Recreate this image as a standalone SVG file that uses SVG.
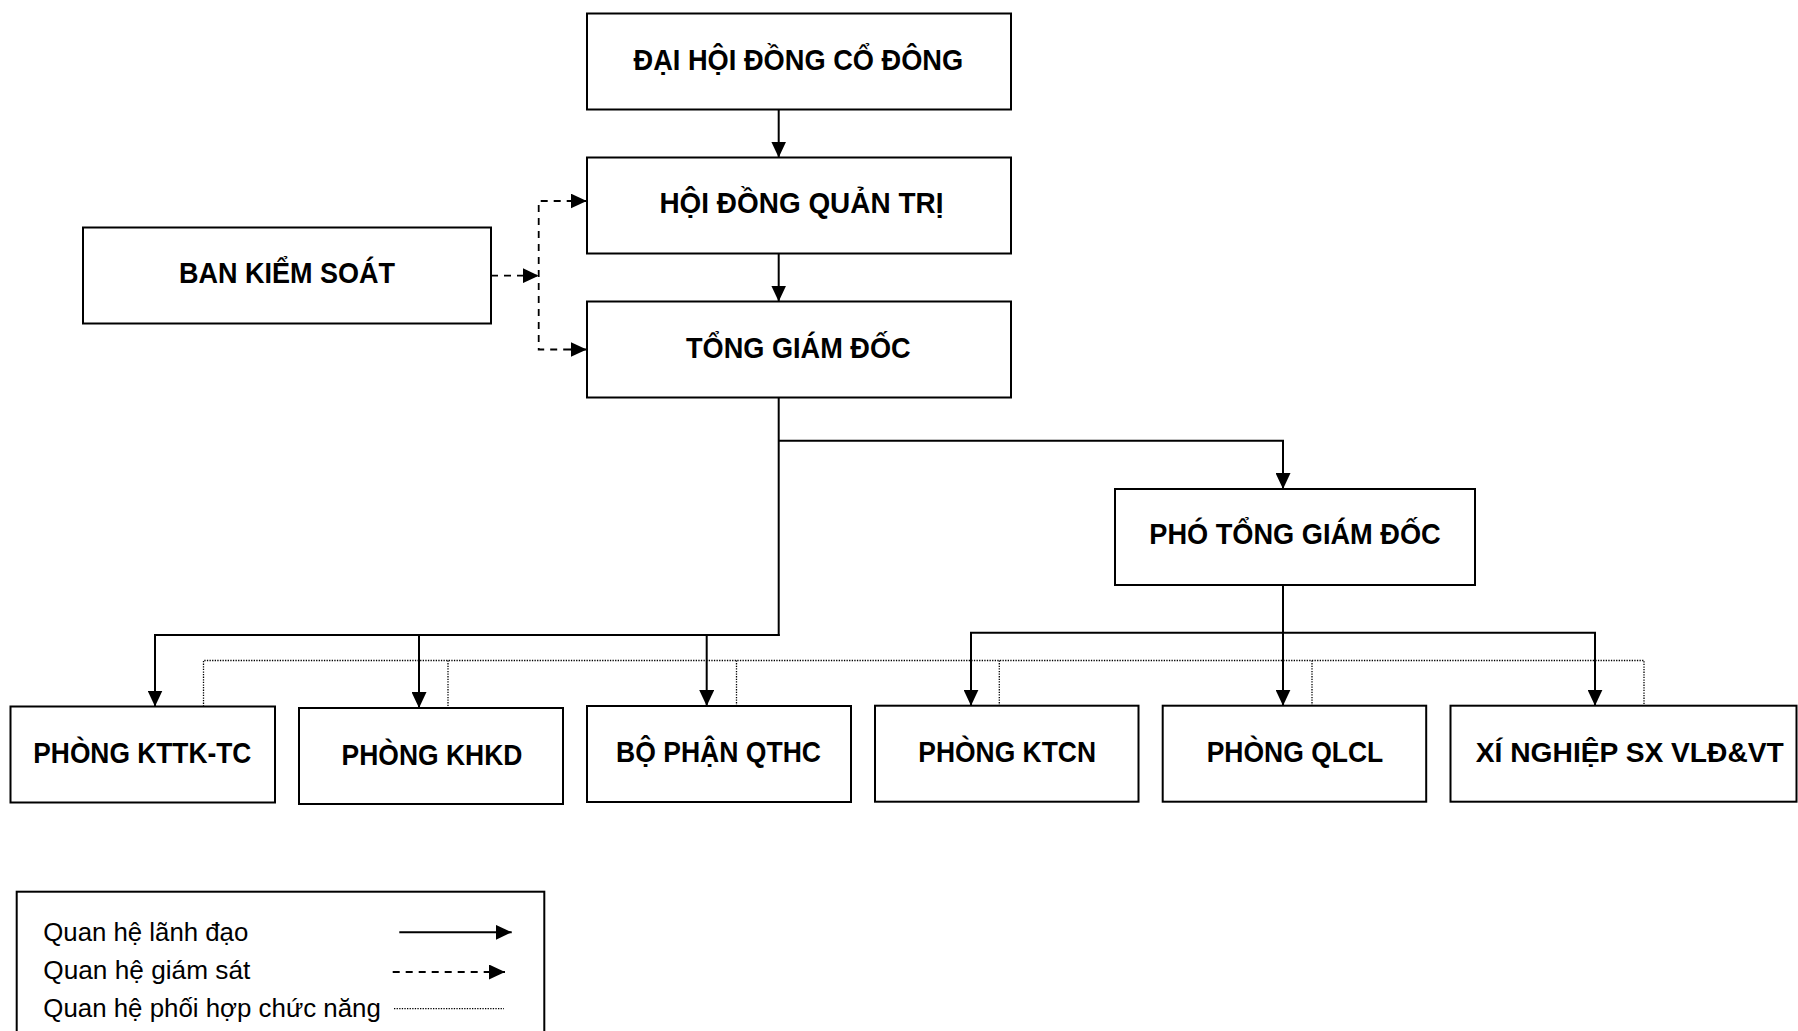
<svg xmlns="http://www.w3.org/2000/svg" width="1798" height="1031" viewBox="0 0 1798 1031">
<style>
.box{fill:#fff;stroke:#000;stroke-width:2}
.t{font-family:"Liberation Sans Narrow","Liberation Sans",Arial,sans-serif;font-weight:bold;font-size:30px;fill:#000}
.lt{font-family:"Liberation Sans Narrow","Liberation Sans",Arial,sans-serif;font-size:25px;fill:#000}
.solid{fill:none;stroke:#000;stroke-width:2}
.dash{fill:none;stroke:#000;stroke-width:1.8;stroke-dasharray:7 6}
.dot{fill:none;stroke:#000;stroke-width:1.3;stroke-dasharray:1.3 1.3}
</style>
<defs>
<marker id="ah" markerUnits="userSpaceOnUse" markerWidth="16" markerHeight="15" refX="16" refY="7.5" orient="auto">
<path d="M0,0 L16,7.5 L0,15 z" fill="#000"/>
</marker>
</defs>
<rect width="1798" height="1031" fill="#fff"/>

<g id="connectors">
<line class="solid" x1="778.7" y1="109.3" x2="778.7" y2="157.5" marker-end="url(#ah)"/>
<line class="solid" x1="778.7" y1="253.3" x2="778.7" y2="301.5" marker-end="url(#ah)"/>
<polyline class="solid" points="778.7,397.3 778.7,636"/>
<polyline class="solid" points="778.7,440.7 1283,440.7 1283,489" marker-end="url(#ah)"/>
<polyline class="solid" points="779.7,635 155,635 155,706.5" marker-end="url(#ah)"/>
<line class="solid" x1="419" y1="635" x2="419" y2="708" marker-end="url(#ah)"/>
<line class="solid" x1="706.7" y1="635" x2="706.7" y2="706" marker-end="url(#ah)"/>
<line class="solid" x1="1283" y1="585" x2="1283" y2="705.7" marker-end="url(#ah)"/>
<polyline class="solid" points="971,705.7 971,632.7 1595,632.7 1595,705.7"/>
<line class="solid" x1="971" y1="680" x2="971" y2="705.7" marker-end="url(#ah)"/>
<line class="solid" x1="1595" y1="680" x2="1595" y2="705.7" marker-end="url(#ah)"/>
<polyline class="dot" points="203.5,706.5 203.5,660.5 1644,660.5 1644,705.7"/>
<line class="dot" x1="448" y1="660.5" x2="448" y2="708"/>
<line class="dot" x1="736.5" y1="660.5" x2="736.5" y2="706"/>
<line class="dot" x1="999.3" y1="660.5" x2="999.3" y2="705.7"/>
<line class="dot" x1="1312" y1="660.5" x2="1312" y2="705.7"/>
<line class="dash" x1="491" y1="275.7" x2="538.7" y2="275.7" marker-end="url(#ah)"/>
<polyline class="dash" points="586.7,201 538.7,201 538.7,349.5 586.7,349.5"/>
<line class="dash" x1="570" y1="201" x2="586.7" y2="201" marker-end="url(#ah)" stroke-dasharray="none"/>
<line class="dash" x1="570" y1="349.5" x2="586.7" y2="349.5" marker-end="url(#ah)" stroke-dasharray="none"/>
</g>

<g id="n-dhdcd"><rect class="box" x="587" y="13.5" width="424" height="96"/><text class="t" x="633.5" y="70" textLength="329.7" lengthAdjust="spacingAndGlyphs">ĐẠI HỘI ĐỒNG CỔ ĐÔNG</text></g>
<g id="n-hdqt"><rect class="box" x="587" y="157.5" width="424" height="96"/><text class="t" x="659.4" y="213.3" textLength="284" lengthAdjust="spacingAndGlyphs">HỘI ĐỒNG QUẢN TRỊ</text></g>
<g id="n-tgd"><rect class="box" x="587" y="301.5" width="424" height="96"/><text class="t" x="686" y="357.7" textLength="224.6" lengthAdjust="spacingAndGlyphs">TỔNG GIÁM ĐỐC</text></g>
<g id="n-bks"><rect class="box" x="83" y="227.5" width="408" height="96"/><text class="t" x="178.9" y="283.3" textLength="216" lengthAdjust="spacingAndGlyphs">BAN KIỂM SOÁT</text></g>
<g id="n-ptgd"><rect class="box" x="1115" y="489" width="360" height="96"/><text class="t" x="1149.3" y="544.3" textLength="291.4" lengthAdjust="spacingAndGlyphs">PHÓ TỔNG GIÁM ĐỐC</text></g>
<g id="n-kttk"><rect class="box" x="10.5" y="706.5" width="264.5" height="96"/><text class="t" x="33.3" y="763.3" textLength="218" lengthAdjust="spacingAndGlyphs">PHÒNG KTTK-TC</text></g>
<g id="n-khkd"><rect class="box" x="299" y="708" width="264" height="96"/><text class="t" x="341.6" y="765" textLength="180.8" lengthAdjust="spacingAndGlyphs">PHÒNG KHKD</text></g>
<g id="n-qthc"><rect class="box" x="587" y="706" width="264" height="96"/><text class="t" x="616" y="761.7" textLength="205" lengthAdjust="spacingAndGlyphs">BỘ PHẬN QTHC</text></g>
<g id="n-ktcn"><rect class="box" x="875" y="705.7" width="263.5" height="96"/><text class="t" x="918.3" y="761.7" textLength="177.7" lengthAdjust="spacingAndGlyphs">PHÒNG KTCN</text></g>
<g id="n-qlcl"><rect class="box" x="1162.7" y="705.7" width="263.5" height="96"/><text class="t" x="1206.7" y="761.7" textLength="176.6" lengthAdjust="spacingAndGlyphs">PHÒNG QLCL</text></g>
<g id="n-xn"><rect class="box" x="1450.5" y="705.7" width="346" height="96"/><text class="t" x="1475.8" y="761.7" style="font-size:28px" textLength="308" lengthAdjust="spacingAndGlyphs">XÍ NGHIỆP SX VLĐ&amp;VT</text></g>

<g id="legend">
<rect class="box" x="16.7" y="891.7" width="527.6" height="160"/>
<text class="lt" x="43.3" y="940.5" textLength="205" lengthAdjust="spacingAndGlyphs">Quan hệ lãnh đạo</text>
<text class="lt" x="43.3" y="978.5" textLength="207" lengthAdjust="spacingAndGlyphs">Quan hệ giám sát</text>
<text class="lt" x="43.3" y="1016.5" textLength="337.5" lengthAdjust="spacingAndGlyphs">Quan hệ phối hợp chức năng</text>
<line class="solid" x1="399.3" y1="932.3" x2="511.7" y2="932.3" marker-end="url(#ah)"/>
<line class="dash" x1="392.7" y1="972" x2="490" y2="972"/>
<line class="solid" x1="488" y1="972" x2="505" y2="972" marker-end="url(#ah)"/>
<line class="dot" x1="394" y1="1008.7" x2="504" y2="1008.7"/>
</g>
</svg>
